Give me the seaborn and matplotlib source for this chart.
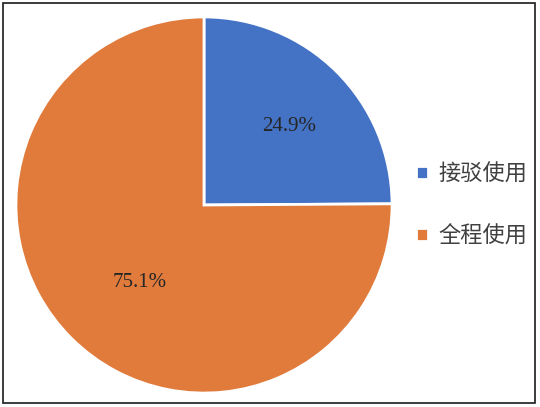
import matplotlib
matplotlib.use('Agg')
import matplotlib.pyplot as plt
import matplotlib.patches as mpatches
import seaborn as sns

# chart data
labels = ['接驳使用', '全程使用']
shares = [24.9, 75.1]
colors = ['#4472C4', '#E07B3C']
# label spots inside each slice (pie data units, radius = 1)
pct_spots = [(0.455, 0.418), (-0.344, -0.413)]

sns.set_theme(style='white')
plt.rcParams['font.family'] = ['Noto Sans CJK SC', 'DejaVu Sans']

fig = plt.figure(figsize=(5.4, 4.07), dpi=100)
ax = fig.add_axes([15 / 540, 13 / 407, 378 / 540, 378 / 407])

wedges, _ = ax.pie(shares, colors=colors, startangle=90, counterclock=False,
                   wedgeprops=dict(edgecolor='white', linewidth=2))
ax.set_xlim(-1.005, 1.005)
ax.set_ylim(-1.005, 1.005)
ax.set_aspect('equal')

for val, (x, y) in zip(shares, pct_spots):
    ax.text(x, y, f'{val:.1f}%', ha='center', va='center', fontsize=15,
            family='Liberation Serif', color='#262626')

fig.legend(wedges, labels, loc='center left', bbox_to_anchor=(416 / 540, 1 - 205 / 407),
           frameon=False, fontsize=16, handlelength=0.55, handleheight=0.55,
           handletextpad=0.45, labelspacing=1.75, borderpad=0, borderaxespad=0,
           labelcolor='#404040')

# thin frame round the picture
fig.patches.append(mpatches.Rectangle((3 / 540, 4 / 407), 532 / 540, 400 / 407,
                                      transform=fig.transFigure, fill=False,
                                      edgecolor='#1a1a1a', linewidth=1.2))

fig.savefig('out.png', dpi=100)
